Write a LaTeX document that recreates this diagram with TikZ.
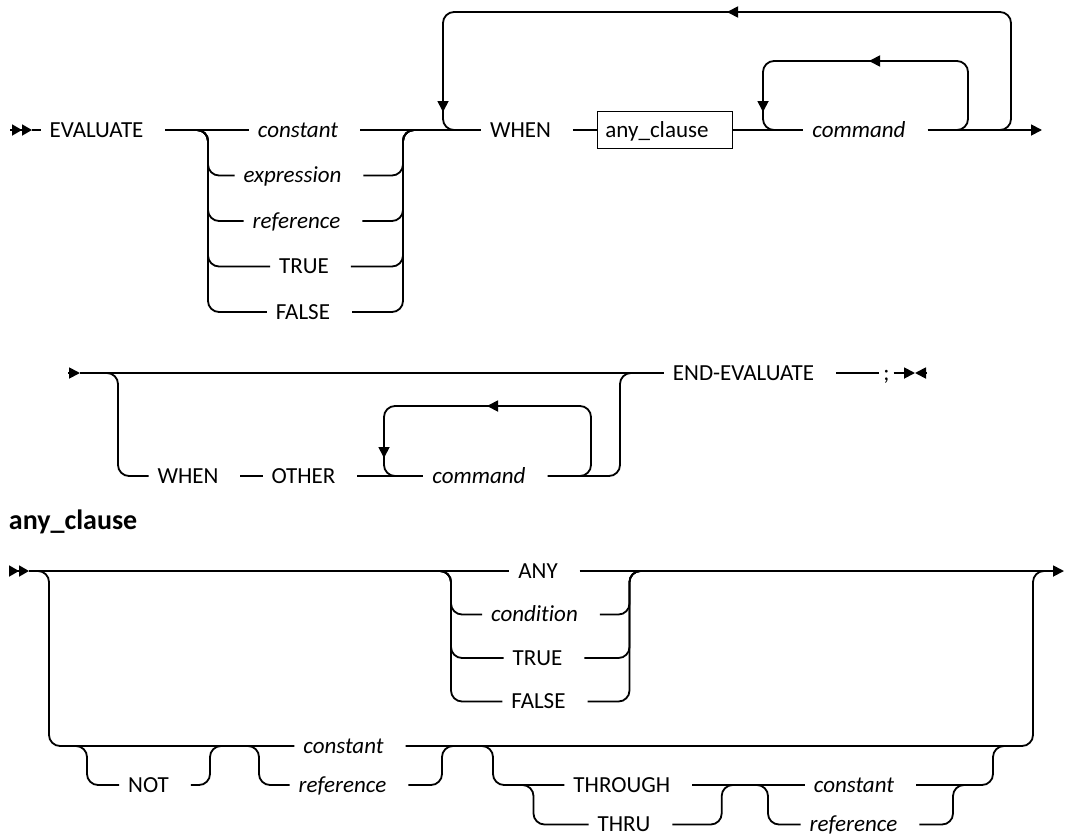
\documentclass[tikz,border=0pt]{standalone}
\usepackage{fontspec}
\setmainfont[Ligatures={TeX,NoCommon}]{Carlito}
\usepackage{tikz}
\usetikzlibrary{arrows.meta}
\tikzset {
    rail/.style={draw, line width=1.8pt, rounded corners=11pt},
    fwd/.style={-{Triangle[length=11pt,width=11pt]}},
    dbl/.style={-{Triangle[length=10pt,width=11pt,sep=0pt]Triangle[length=10pt,width=11pt]}}
}
\providecommand{\railfont}{\fontsize{23}{27}\selectfont}

\begin{document}
\begin{tikzpicture}[
        x=1pt, y=-1pt,
        every node/.style={outer sep=0pt},
        term/.style={font=\railfont, inner xsep=9pt, inner ysep=0pt,
            text height=19.5pt, text depth=4.8pt,
            execute at end node={\hskip13pt}},
        var/.style={term, font=\railfont\itshape},
        semi/.style={font=\railfont, inner xsep=4pt, inner ysep=0pt,
            text height=19.5pt, text depth=4.8pt},
        clausebox/.style={draw, line width=1.5pt, font=\railfont,
            inner xsep=8pt, inner ysep=6.5pt, text height=19.5pt, text depth=4.8pt,
            execute at end node={\hskip16pt}},
        head/.style={font=\fontsize{28}{32}\selectfont\bfseries, inner sep=0pt, anchor=base west},
    ]
    \useasboundingbox (0,0) rectangle (1065,838);

    \node[term] at (103,130)     (ev) {EVALUATE};
    \node[var]  at (304.5,130)   (c1) {constant};
    \node[var]  at (299,175.5)   (c2) {expression};
    \node[var]  at (303,221)     (c3) {reference};
    \node[term] at (310.5,266.5) (c4) {TRUE};
    \node[term] at (309.5,312)   (c5) {FALSE};
    \node[term] at (527,130)     (wh) {WHEN};
    \node[clausebox] at (665,130) (ac) {any\_clause};
    \node[var]  at (865.5,130)   (cm) {command};

    \coordinate (s1) at (10,130);
    \coordinate (j1) at (208,130);
    \coordinate (j2) at (403,130);
    \coordinate (l1) at (443,130);
    \coordinate (l2) at (763,130);
    \coordinate (l3) at (968,130);
    \coordinate (l4) at (1011,130);
    \coordinate (t1) at (727,12);
    \coordinate (t2) at (869,61);
    \coordinate (e1) at (1042,130);

    \draw[rail, dbl] (s1) -- ([xshift=22pt]s1);
    \draw[rail] ([xshift=22pt]s1) -- (ev.west);
    \draw[rail] (ev.east) -- (c1.west);
    \draw[rail] ([xshift=-12pt]j1) -- (j1) |- (c2.west);
    \draw[rail] ([xshift=-12pt]j1) -- (j1) |- (c3.west);
    \draw[rail] ([xshift=-12pt]j1) -- (j1) |- (c4.west);
    \draw[rail] ([xshift=-12pt]j1) -- (j1) |- (c5.west);
    \draw[rail] (c2.east) -| (j2) -- ([xshift=12pt]j2);
    \draw[rail] (c3.east) -| (j2) -- ([xshift=12pt]j2);
    \draw[rail] (c4.east) -| (j2) -- ([xshift=12pt]j2);
    \draw[rail] (c5.east) -| (j2) -- ([xshift=12pt]j2);
    \draw[rail] (c1.east) -- (wh.west);
    \draw[rail] (wh.east) -- (ac.west);
    \draw[rail] (ac.east) -- (cm.west);
    \draw[rail, fwd] (cm.east) -- (e1);

    \draw[rail, fwd] ([xshift=-12pt]l4) -- (l4) |- (t1);
    \draw[rail, fwd] ([xshift=13pt]t1) -| ([yshift=18pt]l1);
    \draw[rail] ([yshift=20pt]l1) -- (l1) -- ([xshift=12pt]l1);
    \draw[rail, fwd] ([xshift=-12pt]l3) -- (l3) |- (t2);
    \draw[rail, fwd] ([xshift=13pt]t2) -| ([yshift=18pt]l2);
    \draw[rail] ([yshift=20pt]l2) -- (l2) -- ([xshift=12pt]l2);

    \node[term] at (194.5,476) (wh2) {WHEN};
    \node[term] at (310,476)   (ot)  {OTHER};
    \node[var]  at (485.5,476) (cm2) {command};
    \node[term] at (750,373)   (ee)  {END-EVALUATE};
    \node[semi] at (886.5,373) (sc)  {;};

    \coordinate (s2) at (68,373);
    \coordinate (j3) at (118,373);
    \coordinate (j4) at (620,373);
    \coordinate (k1) at (384,476);
    \coordinate (k2) at (591,476);
    \coordinate (t3) at (487,406);
    \coordinate (e2) at (927,373);

    \draw[rail, fwd] (s2) -- ([xshift=12pt]s2);
    \draw[rail] ([xshift=12pt]s2) -- (ee.west);
    \draw[rail] ([xshift=-12pt]j3) -- (j3) |- (wh2.west);
    \draw[rail] (wh2.east) -- (ot.west);
    \draw[rail] (ot.east) -- (cm2.west);
    \draw[rail] (cm2.east) -| (j4) -- ([xshift=12pt]j4);
    \draw[rail, fwd] ([xshift=-12pt]k2) -- (k2) |- (t3);
    \draw[rail, fwd] ([xshift=13pt]t3) -| ([yshift=18pt]k1);
    \draw[rail] ([yshift=20pt]k1) -- (k1) -- ([xshift=12pt]k1);
    \draw[rail] (ee.east) -- (sc.west);
    \draw[rail, fwd] (sc.east) -- ([xshift=-12pt]e2);
    \draw[rail, fwd] (e2) -- ([xshift=-12pt]e2);

    \node[head] at (9,529) (tt) {any\_clause};

    \node[term] at (544.5,571) (a1) {ANY};
    \node[var]  at (541,614.5) (a2) {condition};
    \node[term] at (544,658)   (a3) {TRUE};
    \node[term] at (545,701.5) (a4) {FALSE};
    \node[term] at (155,785)   (nt) {NOT};
    \node[var]  at (350,746)   (ca) {constant};
    \node[var]  at (349,785)   (ra) {reference};
    \node[term] at (628.3,785) (th) {THROUGH};
    \node[term] at (630.5,824.5) (tu) {THRU};
    \node[var]  at (860.5,785) (cb) {constant};
    \node[var]  at (860,824.5) (rb) {reference};

    \coordinate (s3) at (9,571);
    \coordinate (j5) at (49,571);
    \coordinate (j6) at (1033,571);
    \coordinate (j7) at (451,571);
    \coordinate (j8) at (629.5,571);
    \coordinate (e3) at (1064,571);
    \coordinate (n1) at (87,746);
    \coordinate (n2) at (210,746);
    \coordinate (n3) at (259,746);
    \coordinate (n4) at (442,746);
    \coordinate (n5) at (493,746);
    \coordinate (n6) at (993,746);
    \coordinate (n7) at (533.5,785);
    \coordinate (n8) at (721.7,785);
    \coordinate (n9) at (768,785);
    \coordinate (n10) at (953,785);

    \draw[rail, dbl] (s3) -- ([xshift=20pt]s3);
    \draw[rail] ([xshift=20pt]s3) -- (a1.west);
    \draw[rail, fwd] (a1.east) -- (e3);
    \draw[rail] ([xshift=-12pt]j7) -- (j7) |- (a2.west);
    \draw[rail] ([xshift=-12pt]j7) -- (j7) |- (a3.west);
    \draw[rail] ([xshift=-12pt]j7) -- (j7) |- (a4.west);
    \draw[rail] (a2.east) -| (j8) -- ([xshift=12pt]j8);
    \draw[rail] (a3.east) -| (j8) -- ([xshift=12pt]j8);
    \draw[rail] (a4.east) -| (j8) -- ([xshift=12pt]j8);
    \draw[rail] ([xshift=-12pt]j5) -- (j5) |- (ca.west);
    \draw[rail] (ca.east) -| (j6) -- ([xshift=12pt]j6);
    \draw[rail] ([xshift=-12pt]n1) -- (n1) |- (nt.west);
    \draw[rail] (nt.east) -| (n2) -- ([xshift=12pt]n2);
    \draw[rail] ([xshift=-12pt]n3) -- (n3) |- (ra.west);
    \draw[rail] (ra.east) -| (n4) -- ([xshift=12pt]n4);
    \draw[rail] ([xshift=-12pt]n5) -- (n5) |- (th.west);
    \draw[rail] (th.east) -- (cb.west);
    \draw[rail] (cb.east) -| (n6) -- ([xshift=12pt]n6);
    \draw[rail] ([xshift=-12pt]n7) -- (n7) |- (tu.west);
    \draw[rail] (tu.east) -| (n8) -- ([xshift=12pt]n8);
    \draw[rail] ([xshift=-12pt]n9) -- (n9) |- (rb.west);
    \draw[rail] (rb.east) -| (n10) -- ([xshift=12pt]n10);

    \end{tikzpicture}
\end{document}
